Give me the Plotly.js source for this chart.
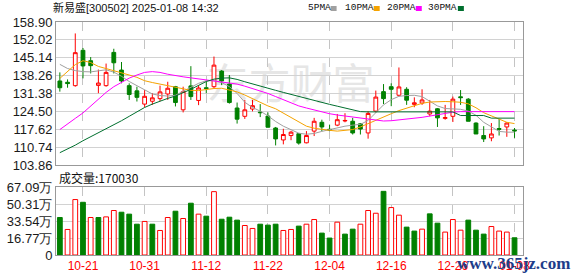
<!DOCTYPE html>
<html><head><meta charset="utf-8">
<script src="https://cdn.plot.ly/plotly-3.0.1.min.js"></script>
<style>html,body{margin:0;padding:0;background:#fff}#c{width:578px;height:276px}</style>
</head><body><div id="c"></div>
<script>
const dates = ['10-16','10-17','10-18','10-21','10-22','10-23','10-24','10-25','10-28','10-29','10-30','10-31',
'11-01','11-04','11-05','11-06','11-07','11-08','11-11','11-12','11-13','11-14','11-15','11-18','11-19','11-20','11-21','11-22','11-25','11-26','11-27','11-28','11-29',
'12-02','12-03','12-04','12-05','12-06','12-09','12-10','12-11','12-12','12-13','12-16','12-17','12-18','12-19','12-20','12-23','12-24','12-25','12-26','12-27','12-30','12-31',
'01-02','01-03','01-06','01-07','01-08'];
const openP  = [136.2,135.7,134.4,148.0,144.0,134.5,134.4,147.2,140.4,134.4,132.4,127.3,128.4,129.4,131.2,134.0,125.1,134.3,128.7,133.6,134.0,140.0,135.0,125.8,122.6,125.4,124.2,122.7,118.1,113.5,115.2,115.9,112.4,116.9,120.3,117.6,119.2,120.8,120.7,119.7,116.2,124.6,132.1,134.0,130.7,133.0,127.2,127.7,123.5,125.5,121.8,122.6,130.1,129.2,120.0,115.2,114.3,117.9,118.5,117.3];
const highP  = [139.5,136.8,154.5,148.9,145.4,140.6,142.9,148.6,143.5,135.3,134.0,132.7,131.5,134.4,135.9,134.3,134.0,141.9,134.6,136.0,145.6,140.4,138.5,127.9,128.9,128.9,127.3,124.1,118.5,117.8,117.0,116.2,116.9,122.0,121.3,119.4,123.5,123.8,122.0,120.0,124.6,132.5,135.0,135.3,141.4,133.8,129.9,133.0,128.9,125.8,127.0,130.2,132.7,129.6,120.3,118.8,120.0,121.6,120.3,118.1];
const lowP   = [132.1,133.6,134.0,137.2,139.1,131.5,134.0,139.1,135.3,128.9,128.3,126.1,127.0,128.4,128.9,126.4,124.1,128.9,126.9,131.5,133.4,134.6,127.5,119.8,121.6,124.5,122.3,118.3,111.4,111.8,113.4,111.7,112.2,115.0,116.9,116.9,118.8,120.3,115.6,115.6,114.0,124.1,127.3,126.5,130.2,127.0,126.1,127.0,122.6,118.5,121.3,120.4,127.0,120.7,115.8,112.7,113.0,115.2,114.7,114.3];
const closeP = [133.6,135.2,147.1,142.0,142.1,135.4,139.5,143.2,136.2,131.0,129.9,130.3,129.7,132.0,133.4,127.9,132.1,130.2,133.5,133.3,142.3,136.2,127.9,121.5,125.1,126.7,124.0,118.4,113.9,115.6,116.5,112.3,115.2,120.7,118.5,117.3,121.3,121.0,116.2,117.7,123.7,130.0,129.4,133.0,133.9,128.8,127.8,128.9,124.6,122.0,122.1,129.2,129.8,120.7,115.8,113.9,115.8,117.6,120.0,117.0];
const ma5  = [142.6,141.0,140.2,139.8,139.7,140.2,140.5,139.6,138.0,136.0,134.3,132.6,131.2,130.6,130.4,130.7,132.2,133.8,135.3,136.3,136.3,135.6,134.0,131.4,128.0,126.0,124.6,122.8,120.6,118.8,117.3,116.1,115.7,116.0,116.8,117.5,118.2,118.8,119.2,119.5,121.0,124.0,127.0,129.0,130.3,130.6,130.7,130.2,128.5,126.6,125.6,125.4,125.3,124.6,123.0,120.3,118.5,116.8,116.5,116.5];
const ma10 = [137.2,140.0,142.5,144.0,143.3,141.8,141.0,140.4,139.5,138.5,137.6,136.3,135.6,135.0,134.5,134.0,133.4,132.6,132.5,133.0,133.3,133.4,132.8,132.0,130.8,129.3,127.8,126.6,125.5,123.8,122.0,120.2,118.8,118.0,117.5,117.2,116.9,117.1,117.5,118.5,119.8,121.2,122.6,123.6,124.8,125.8,126.6,127.6,128.1,128.3,128.3,128.2,128.0,127.4,125.9,124.0,122.8,121.3,120.3,119.8];
const ma20 = [117.5,119.5,121.8,123.9,126.5,129.2,131.8,134.0,135.8,137.3,138.5,139.5,139.8,139.5,138.8,138.2,137.8,137.4,137.0,136.7,136.4,136.0,135.6,135.0,134.2,133.3,132.3,131.4,130.2,129.0,127.5,126.6,125.8,125.0,124.2,123.6,123.1,122.7,122.2,121.8,121.4,121.0,120.8,120.9,121.2,121.5,121.8,122.2,122.7,123.2,123.8,124.2,124.4,124.4,124.4,124.4,124.4,124.4,124.4,124.4];
const ma30 = [108.6,110.0,111.5,113.2,114.7,116.2,117.7,119.3,120.9,122.6,124.3,126.0,127.3,128.5,129.5,130.4,131.6,133.0,134.5,136.0,136.9,137.3,137.4,136.8,135.9,135.0,134.2,133.4,132.6,131.8,131.0,130.2,129.4,128.6,127.9,127.2,126.5,125.8,125.0,124.4,124.3,124.3,124.3,124.3,124.3,124.3,124.3,124.3,124.3,124.3,124.3,124.3,122.9,122.9,122.9,122.9,121.9,121.9,121.9,121.9];
const volume = [37.0,25.2,54.7,52.0,37.0,37.0,37.6,43.9,42.2,40.3,30.4,33.1,30.4,24.2,37.0,43.2,36.0,51.1,40.3,38.3,62.5,35.3,37.3,34.4,29.1,26.2,30.4,29.5,30.4,24.2,25.2,28.5,30.4,35.0,21.6,16.7,32.4,20.6,25.5,30.4,43.9,41.2,62.8,46.8,39.3,27.5,23.6,25.5,40.6,31.4,22.6,35.0,24.5,34.4,24.5,20.6,28.1,23.6,22.6,17.003];
const priceTicks = [103.86,110.74,117.62,124.50,131.38,138.26,145.14,152.02,158.90];
const volTicks = [0,16.77,33.54,50.31,67.09];
const dateTicks = ['10-21','10-31','11-12','11-22','12-04','12-16','12-26','01-08'];
const maNames = ['5PMA','10PMA','20PMA','30PMA'];
const titleText = '新易盛[300502] 2025-01-08 14:32';
const lastVolume = 170030;

const RED = '#ff0000', GREEN = '#008000';
const maColors = ['#a0a0a0','#f5a300','#ff00ff','#006f2e'];
const volUp = volume.map((v,i) => i === 0 ? false : closeP[i] >= closeP[i-1]);

const traces = [
  {type:'candlestick', x:dates, open:openP, high:highP, low:lowP, close:closeP,
   xaxis:'x', yaxis:'y', whiskerwidth:0, hoverinfo:'skip',
   increasing:{line:{color:RED,width:1}, fillcolor:'#ffffff'},
   decreasing:{line:{color:GREEN,width:1}, fillcolor:GREEN}},
];
[ma5,ma10,ma20,ma30].forEach((m,k)=>{
  traces.push({type:'scatter', mode:'lines', x:dates, y:m, xaxis:'x', yaxis:'y',
    line:{color:maColors[k], width:1}, hoverinfo:'skip'});
});
traces.push({type:'bar', x:dates, y:volume, xaxis:'x2', yaxis:'y2', width:0.62,
  marker:{color: volUp.map(u=>u?'#ffffff':GREEN), line:{color: volUp.map(u=>u?RED:GREEN), width:1}},
  hoverinfo:'skip'});

const axFont = {family:'Liberation Sans, Arial, sans-serif', size:13, color:'#1a1a1a'};
const xcommon = {type:'category', range:[-0.5,60.1], tickvals:dateTicks, ticktext:dateTicks,
  showgrid:true, gridcolor:'#c4c4c4', griddash:'dash', gridwidth:1,
  showline:true, mirror:true, linecolor:'#999999', linewidth:1, ticks:'', zeroline:false, fixedrange:true};

const px = v => (v-56)/466;
const py = v => (255-v)/233;
const legendX = [306,343,385,426];
const squareX = [330,373,415,457];
const annotations = [
  {xref:'paper', yref:'paper', x:px(51), y:py(8), xanchor:'left', yanchor:'middle',
   text:titleText, showarrow:false, font:{family:'Liberation Sans, Noto Sans CJK SC, sans-serif', size:11, color:'#111'}},
  {xref:'paper', yref:'paper', x:px(57), y:py(177), xanchor:'left', yanchor:'middle',
   text:'成交量:' + lastVolume, showarrow:false, font:{family:'Noto Sans CJK SC, sans-serif', size:12, color:'#111'}},
  {xref:'paper', yref:'paper', x:px(513), y:py(263), xanchor:'center', yanchor:'middle',
   text:'<b>www.365jz.com</b>', showarrow:false, font:{family:'Liberation Serif, DejaVu Serif, serif', size:17, color:'#1d3d8a'}}
];
const shapes = [
  {type:'rect', xref:'paper', yref:'paper', x0:px(200), x1:px(380), y0:py(112), y1:py(62),
   line:{width:0}, fillcolor:'rgba(0,0,0,0)', layer:'below',
   label:{text:'东方财富', font:{family:'Noto Sans CJK SC, sans-serif', size:42, color:'#e6e6e6'}, textposition:'middle center'}}
];
maNames.forEach((n,k)=>{
  annotations.push({xref:'paper', yref:'paper', x:px(legendX[k]-1), y:py(8), xanchor:'left', yanchor:'middle',
    text:n, showarrow:false,
    font:{family:'Liberation Mono, DejaVu Sans Mono, monospace', size:9.5, color:'#111'}});
  shapes.push({type:'rect', xref:'paper', yref:'paper', x0:px(squareX[k]), x1:px(squareX[k]+6), y0:py(11), y1:py(6),
    line:{width:0}, fillcolor:maColors[k], layer:'above'});
});

const layout = {
  width:578, height:276, margin:{l:56, r:55, t:22, b:21, pad:0},
  paper_bgcolor:'#ffffff', plot_bgcolor:'rgba(0,0,0,0)', showlegend:false,
  xaxis: Object.assign({}, xcommon, {anchor:'y', showticklabels:false, rangeslider:{visible:false}}),
  xaxis2: Object.assign({}, xcommon, {anchor:'y2', showticklabels:true,
    tickfont:{family:'Liberation Sans, Arial, sans-serif', size:12, color:RED}}),
  yaxis: {domain:[1-143/233,1], range:[priceTicks[0], priceTicks[priceTicks.length-1]], tickvals:priceTicks,
    ticktext:priceTicks.map(v=>v.toFixed(2)), tickfont:axFont, showgrid:true, gridcolor:'#d2d2d2', gridwidth:1,
    showline:true, mirror:true, linecolor:'#999999', ticks:'', zeroline:false, fixedrange:true},
  yaxis2: {domain:[0,68/233], range:[0,67.09], tickvals:volTicks,
    ticktext:volTicks.map(v=> v===0 ? '0' : v.toFixed(2)+'万'), tickfont:axFont, showgrid:true, gridcolor:'#d2d2d2', gridwidth:1,
    showline:true, mirror:true, linecolor:'#999999', ticks:'', zeroline:false, fixedrange:true},
  shapes: shapes,
  annotations: annotations
};
Plotly.newPlot('c', traces, layout, {staticPlot:true, displayModeBar:false});
</script></body></html>
